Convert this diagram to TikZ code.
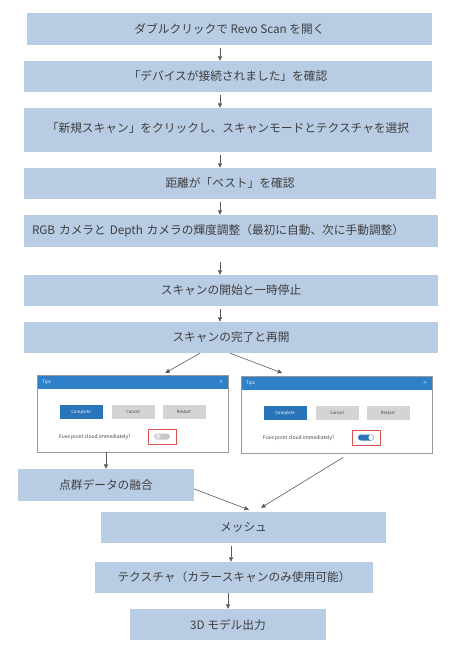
\documentclass[tikz,border=0pt]{standalone}
\usepackage{fontspec}
\newfontfamily\jp{Noto Sans CJK JP}
\usetikzlibrary{arrows.meta,calc}
\definecolor{boxfill}{HTML}{B8CCE4}
\definecolor{txt}{HTML}{3F3F3F}
\definecolor{arrc}{HTML}{595959}
\definecolor{titleblue}{HTML}{2F80C8}
\definecolor{btnblue}{HTML}{2A74BA}
\definecolor{btngray}{HTML}{D4D4D4}
\definecolor{dlgborder}{HTML}{9A9A9A}
\definecolor{redbox}{HTML}{D9534F}
\newcommand\tipsdlg[4]{%
  \node[dlgbox, anchor=north west] (#1) at (#2,#3) {};
  \begin{scope}[shift={(#1.north west)}]
    \fill[titleblue] (0,0) rectangle (191,14);
    \node[dlgsmall, text=white, anchor=west] (#1t) at (5,7) {Tips};
    \node[dlgsmall, text=white] (#1x) at (184,7) {×};
    \node[dlgbtn, fill=btnblue, text=white] (#1c) at (44,37) {Complete};
    \node[dlgbtn, fill=btngray, text=txt] (#1n) at (96,37) {Cancel};
    \node[dlgbtn, fill=btngray, text=txt] (#1r) at (147,37) {Restart};
    \node[dlgtext, anchor=west] (#1q) at (22,62) {Fuse point cloud immediately?};
    \node[draw=redbox, line width=0.6pt, minimum width=28pt, minimum height=15pt, inner sep=0pt] (#1s) at (125,61.5) {};
    \ifnum#4=1
      \fill[btnblue, rounded corners=3pt] (117,58.5) rectangle (133,64.5);
      \fill[white] (130,61.5) circle (2.6pt);
    \else
      \fill[black!22, rounded corners=3pt] (117,58.5) rectangle (133,64.5);
      \fill[black!10] (121,61.5) circle (2.6pt);
    \fi
  \end{scope}
  \draw[dlgborder, line width=0.6pt] (#1.north west) rectangle (#1.south east);
}
\begin{document}
\begin{tikzpicture}[x=1pt,y=-1pt,
  stepbox/.style={draw=none, fill=boxfill, text=txt, font=\jp\fontsize{11.7}{14}\selectfont, inner sep=0pt, anchor=center},
  arr/.style={draw=arrc, line width=0.6pt, -{Triangle[length=4.5pt,width=4pt]}},
  dlgbox/.style={fill=white, minimum width=191pt, minimum height=77pt, inner sep=0pt},
  dlgsmall/.style={font=\jp\fontsize{4.5}{5}\selectfont, inner sep=0pt},
  dlgbtn/.style={font=\jp\fontsize{4.3}{5}\selectfont, minimum width=43pt, minimum height=14pt, inner sep=0pt},
  dlgtext/.style={font=\jp\fontsize{5}{6}\selectfont, text=txt, inner sep=0pt}
]
\useasboundingbox[fill=white] (0,0) rectangle (462,651);

\node[stepbox, minimum width=405pt, minimum height=32pt] (b1) at (229.5,29) {ダブルクリックで Revo Scan を開く};
\node[stepbox, minimum width=408pt, minimum height=31pt] (b2) at (228,76.5) {「デバイスが接続されました」を確認};
\node[stepbox, minimum width=408pt, minimum height=44pt] (b3) at (228,130) {\raisebox{5pt}{「新規スキャン」をクリックし、スキャンモードとテクスチャを選択}};
\node[stepbox, minimum width=412pt, minimum height=31pt] (b4) at (230,183.5) {距離が「ベスト」を確認};
\node[stepbox, minimum width=414pt, minimum height=32pt, text width=398pt, inner xsep=8pt, align=left] (b5) at (231,231) {RGB カメラと Depth カメラの輝度調整（最初に自動、次に手動調整）};
\node[stepbox, minimum width=414pt, minimum height=31pt] (b6) at (231,290.5) {スキャンの開始と一時停止};
\node[stepbox, minimum width=414pt, minimum height=31pt] (b7) at (231,337.5) {スキャンの完了と再開};

\tipsdlg{d1}{37}{375}{0}
\tipsdlg{d2}{241}{376}{1}

\node[stepbox, minimum width=176pt, minimum height=32pt] (b8) at (106,485) {点群データの融合};
\node[stepbox, minimum width=285pt, minimum height=31pt] (b9) at (243.5,527.5) {メッシュ};
\node[stepbox, minimum width=278pt, minimum height=31pt] (b10) at (234,577.5) {テクスチャ（カラースキャンのみ使用可能）};
\node[stepbox, minimum width=196pt, minimum height=31pt] (b11) at (228,624.5) {3D モデル出力};

\coordinate (ax) at (220,0);
\draw[arr] ($(b1.south -| ax)+(0,3)$) -- (b2.north -| ax);
\draw[arr] ($(b2.south -| ax)+(0,3)$) -- (b3.north -| ax);
\draw[arr] ($(b3.south -| ax)+(0,3)$) -- (b4.north -| ax);
\draw[arr] ($(b4.south -| ax)+(0,3)$) -- (b5.north -| ax);
\draw[arr] ($(b5.south -| ax)+(0,15)$) -- (b6.north -| ax);
\draw[arr] ($(b6.south -| ax)+(0,3)$) -- (b7.north -| ax);

\draw[arr] ($(b7.south)+(-31,0)$) -- ($(d1.north)+(32.5,-2)$);
\draw[arr] ($(b7.south)+(-1,0)$) -- ($(d2.north)+(-54.5,-3)$);

\draw[arr] (b8.north |- d1.south) -- (b8.north);
\draw[arr] ($(b8.east)+(0,4)$) -- ($(b9.north)+(5.5,-2)$);
\draw[arr] ($(d2.south)+(6.5,4)$) -- ($(b9.north)+(17.5,-4)$);

\coordinate (bx) at (231,0);
\coordinate (cx) at (228,0);
\draw[arr] ($(b9.south -| bx)+(0,3)$) -- (b10.north -| bx);
\draw[arr] ($(b10.south -| cx)+(0,0)$) -- (b11.north -| cx);
\end{tikzpicture}
\end{document}
